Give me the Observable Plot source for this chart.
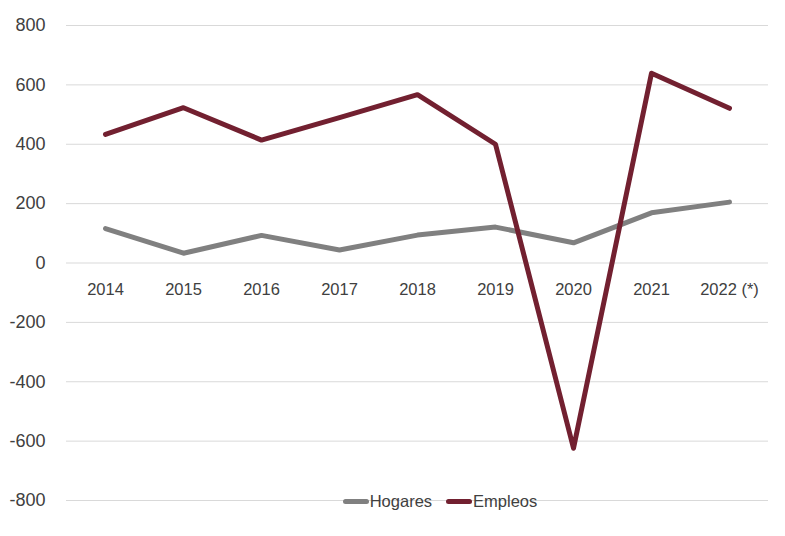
<!DOCTYPE html>
<html>
<head>
<meta charset="utf-8">
<script src="https://cdn.jsdelivr.net/npm/d3@7"></script>
<script src="https://cdn.jsdelivr.net/npm/@observablehq/plot@0.6"></script>
<style>
  html, body { margin: 0; padding: 0; background: #fff; }
  #wrap { position: relative; width: 785px; height: 536px; font-family: "Liberation Sans", Arial, sans-serif; }
  #legend { position: absolute; left: 95px; width: 690px; top: 489px; text-align: center; font-size: 16.5px; color: #404040; }
  .item { display: inline-flex; align-items: center; margin: 0 7px; }
  .sw { display: inline-block; width: 26px; height: 5px; border-radius: 3px; margin-right: 1px; }
</style>
</head>
<body>
<div id="wrap"></div>
<script>
const years = ["2014","2015","2016","2017","2018","2019","2020","2021","2022 (*)"];
const hogares = [116, 33, 93, 44, 94, 121, 68, 169, 205];
const empleos = [433, 523, 414, 490, 567, 400, -624, 639, 521];
const yTicks = [-800, -600, -400, -200, 0, 200, 400, 600, 800];
const seriesNames = ["Hogares", "Empleos"];
const seriesColors = ["#808080", "#722030"];

const data = [];
years.forEach((y, i) => {
  data.push({year: y, value: hogares[i], serie: seriesNames[0]});
  data.push({year: y, value: empleos[i], serie: seriesNames[1]});
});

const chart = Plot.plot({
  width: 785,
  height: 536,
  marginLeft: 66,
  marginRight: 17,
  marginTop: 25,
  marginBottom: 36,
  style: { fontFamily: "Liberation Sans, Arial, sans-serif", color: "#404040", background: "#fff" },
  x: { type: "point", domain: years, padding: 0.5, axis: null },
  y: { domain: [-800, 800], ticks: yTicks, axis: null },
  color: { domain: seriesNames, range: seriesColors },
  marks: [
    Plot.gridY(yTicks, { stroke: "#d9d9d9", strokeOpacity: 1, strokeWidth: 1 }),
    Plot.axisY(yTicks, { tickSize: 0, tickPadding: 21, fontSize: 18, fill: "#404040", label: null, tickFormat: d => String(d) }),
    Plot.text(years, { x: d => d, y: () => 0, dy: 27, text: d => d, fontSize: 16.5, fill: "#404040" }),
    Plot.line(data, { x: "year", y: "value", z: "serie", stroke: "serie", strokeWidth: 5, strokeLinecap: "round", strokeLinejoin: "round" })
  ]
});

const wrap = document.getElementById("wrap");
wrap.appendChild(chart);
const legend = document.createElement("div");
legend.id = "legend";
seriesNames.forEach((n, i) => {
  const it = document.createElement("span");
  it.className = "item";
  it.innerHTML = `<span class="sw" style="background:${seriesColors[i]}"></span>${n}`;
  legend.appendChild(it);
});
wrap.appendChild(legend);
</script>
</body>
</html>
